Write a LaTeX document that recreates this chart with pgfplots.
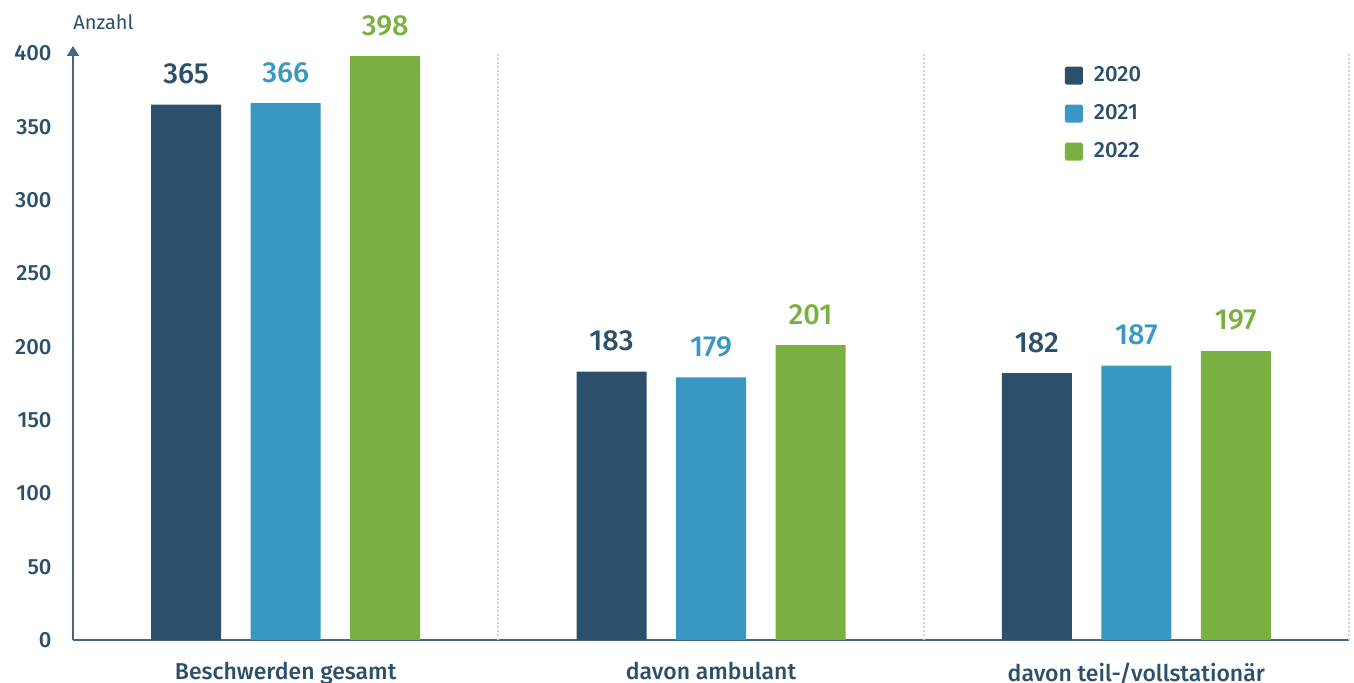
\documentclass[border=0pt]{standalone}
\usepackage{fontspec}
\setmainfont{Fira Sans}
\newfontfamily\med{Fira Sans Medium}
\usepackage{pgfplots}
\pgfplotsset{compat=1.18}
\usetikzlibrary{arrows.meta}
\definecolor{cA}{HTML}{2C4F6B}
\definecolor{cB}{HTML}{3897C3}
\definecolor{cC}{HTML}{7AB041}
\definecolor{axc}{HTML}{48677F}
\definecolor{dotc}{HTML}{D4D4D4}
\begin{document}
\begin{tikzpicture}
\path[use as bounding box] (0,0) rectangle (677pt,341.5pt);
\begin{axis}[
  /pgf/number format/assume math mode=true,
  at={(36.5pt,21.5pt)}, anchor=south west,
  scale only axis, width=638pt, height=297pt,
  xmin=-0.5, xmax=2.5, ymin=0, ymax=405,
  clip=false,
  axis x line*=bottom, axis y line=left,
  x axis line style={axc, line width=0.8pt, -},
  y axis line style={axc, line width=0.8pt, -{Triangle[width=6pt,length=5pt]}},
  major tick length=0pt,
  ytick={0,50,...,400},
  xtick={0,1,2},
  xticklabels={Beschwerden gesamt, davon ambulant, davon teil-/vollstationär},
  yticklabel style={font=\med\fontsize{11}{13}\selectfont, text=cA, anchor=east, inner sep=0pt, xshift=-10.5pt},
  xticklabel style={font=\med\fontsize{11.5}{14}\selectfont, text=cA, anchor=north, inner sep=0pt, yshift=-11pt},
  ybar, bar width=35pt,
  nodes near coords,
  every node near coord/.append style={font=\med\fontsize{14.5}{16}\selectfont, inner sep=0pt, anchor=south, yshift=10pt},
  legend style={at={(axis cs:1.817,394)}, anchor=north west, draw=none, fill=none,
    font=\med\fontsize{11}{13}\selectfont, text=cA, row sep=10pt, column sep=5.5pt,
    nodes={inner sep=0pt}},
  legend cell align=left,
  legend image code/.code={\fill[#1, rounded corners=0.8pt] (0pt,-4.5pt) rectangle (9pt,4.5pt);},
]
\draw[dotc, line width=1pt, dash pattern=on 1pt off 1pt] (axis cs:0.5,0) -- (axis cs:0.5,400);
\draw[dotc, line width=1pt, dash pattern=on 1pt off 1pt] (axis cs:1.5,0) -- (axis cs:1.5,400);
\draw[dotc, line width=1pt, dash pattern=on 1pt off 1pt] (axis cs:2.5,0) -- (axis cs:2.5,400);
\addplot[fill=cA, draw=none, bar shift=-49.75pt, every node near coord/.append style={text=cA}] coordinates {(0,365) (1,183) (2,182)};
\addplot[fill=cB, draw=none, bar shift=0pt, every node near coord/.append style={text=cB}] coordinates {(0,366) (1,179) (2,187)};
\addplot[fill=cC, draw=none, bar shift=49.75pt, every node near coord/.append style={text=cC}] coordinates {(0,398) (1,201) (2,197)};
\legend{2020,2021,2022}
\node[anchor=base west, inner sep=0pt, font=\fontsize{10}{12}\selectfont, text=cA] at (rel axis cs:0,1) [yshift=8pt] {Anzahl};
\end{axis}
\end{tikzpicture}
\end{document}
